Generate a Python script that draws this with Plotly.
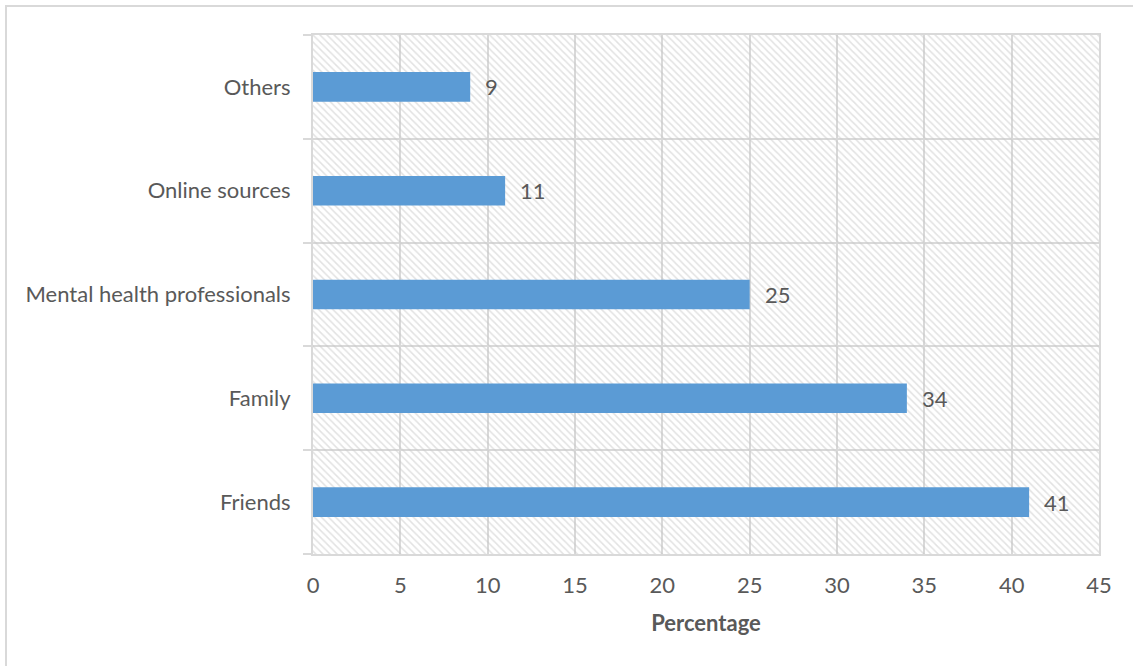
import plotly.graph_objects as go

categories = ["Friends", "Family", "Mental health professionals", "Online sources", "Others"]
percentages = [41, 34, 25, 11, 9]
x_ticks = [0, 5, 10, 15, 20, 25, 30, 35, 40, 45]
x_title = "Percentage"

x_max = 45
FONT = "Lato"
TXT = "#595959"
GRID = "#d9d9d9"
BAR = "#5B9BD5"
FS = 22

ypos = list(range(len(categories)))

fig = go.Figure()

# hatched plot-area background
fig.add_trace(go.Bar(
    y=ypos, x=[x_max] * len(categories), orientation="h", width=1,
    marker=dict(color="rgba(0,0,0,0)", line=dict(width=0),
                pattern=dict(shape="\\", fgcolor="#c6c6c6", bgcolor="rgba(0,0,0,0)",
                             size=5, solidity=0.3, fillmode="overlay")),
    hoverinfo="skip", showlegend=False,
))

fig.add_trace(go.Bar(
    y=ypos, x=percentages, orientation="h", width=0.285,
    marker=dict(color=BAR, line=dict(width=0)),
    showlegend=False, hoverinfo="skip",
))

for yi, v in zip(ypos, percentages):
    fig.add_annotation(x=v, y=yi, text=str(v), showarrow=False, xanchor="left",
                       xshift=13, font=dict(family=FONT, size=FS, color=TXT))

fig.update_layout(
    width=1133, height=666,
    margin=dict(l=313, r=34, t=35, b=112),
    paper_bgcolor="white", plot_bgcolor="white",
    barmode="overlay",
    font=dict(family=FONT, size=FS, color=TXT),
    xaxis=dict(range=[0, x_max], tickvals=x_ticks, ticktext=[str(t) for t in x_ticks],
               showgrid=True, gridcolor=GRID, gridwidth=2,
               showline=True, linecolor=GRID, linewidth=2, mirror=True,
               zeroline=False, ticks="", ticklabelstandoff=11,
               title=dict(text="<b>" + x_title + "</b>", standoff=18,
                          font=dict(family=FONT, size=FS, color=TXT))),
    yaxis=dict(range=[-0.5, len(categories) - 0.5], tickvals=ypos, ticktext=categories,
               showgrid=False, zeroline=False,
               showline=True, linecolor=GRID, linewidth=2, mirror=True,
               ticks="", ticklabelstandoff=16,
               minor=dict(tick0=-0.5, dtick=1, showgrid=True, gridcolor=GRID, gridwidth=2,
                          ticks="outside", ticklen=8, tickcolor=GRID, tickwidth=2)),
    shapes=[dict(type="rect", xref="paper", yref="paper",
                 x0=-0.3906, x1=1.05, y0=-0.23, y1=1.0559,
                 line=dict(color=GRID, width=2), fillcolor="rgba(0,0,0,0)", layer="below")],
)

fig.write_html("out.html")
